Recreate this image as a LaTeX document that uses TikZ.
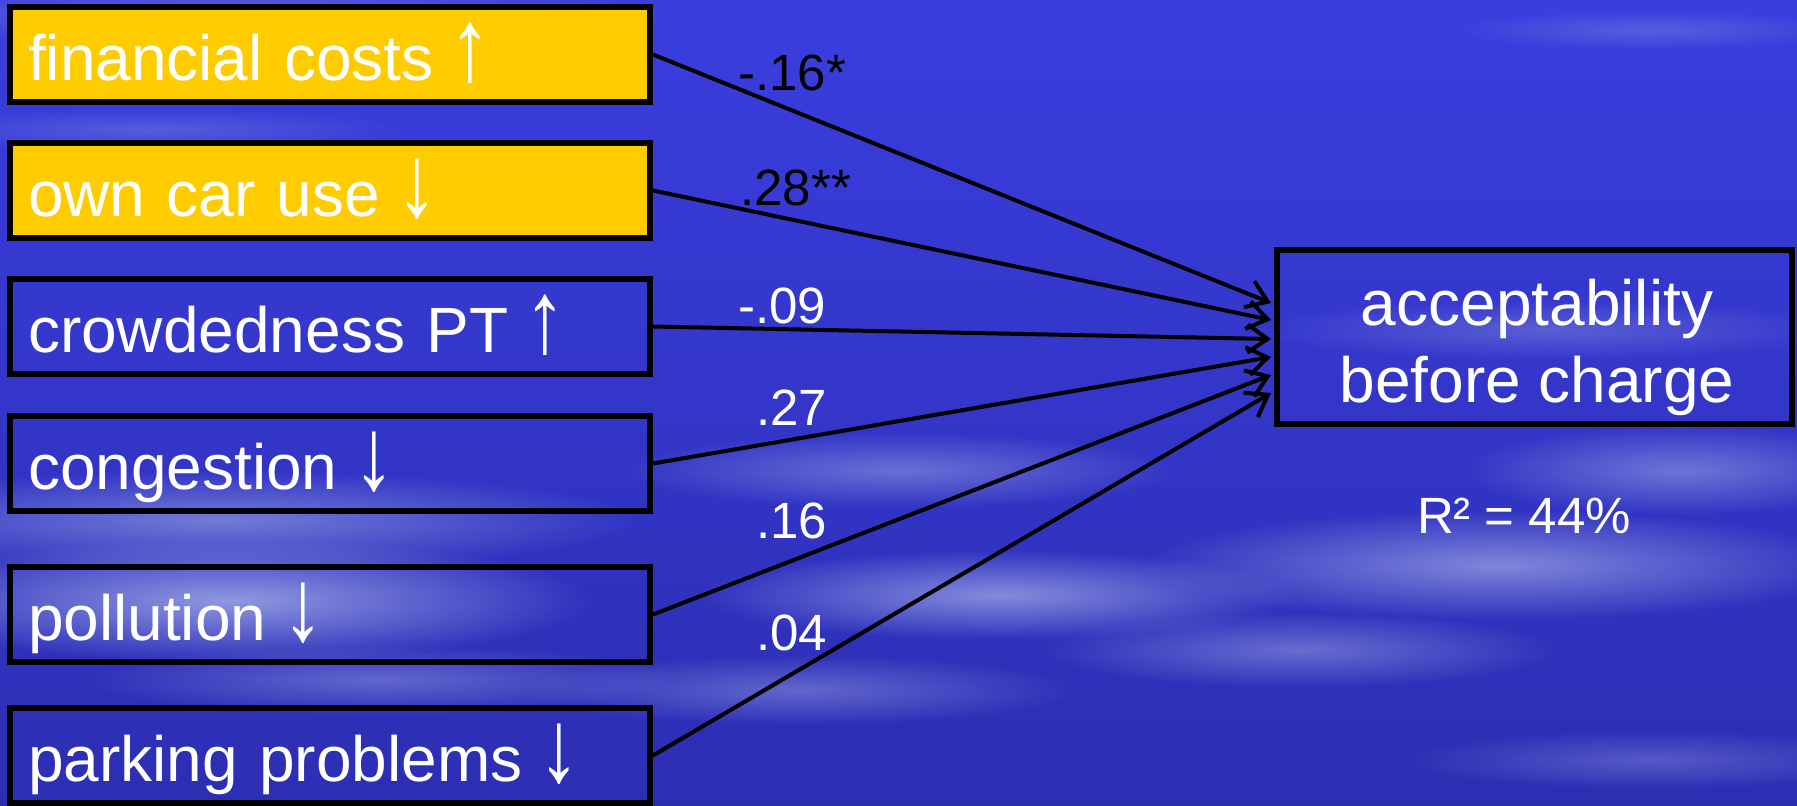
\documentclass[tikz,border=0pt]{standalone}
\usepackage{fontspec}
\setmainfont{Liberation Sans}
\usetikzlibrary{arrows.meta,calc,fadings}
\definecolor{bgtop}{RGB}{58,62,222}
\definecolor{bgmid}{RGB}{36,36,168}
\definecolor{bgbot}{RGB}{44,46,178}
\definecolor{cloud}{RGB}{160,170,230}
\definecolor{boxyellow}{RGB}{255,204,0}
\tikzfading[name=fuzzy, inner color=transparent!0, outer color=transparent!100]
\newcommand{\uparr}{\hspace{8pt}\scalebox{1.3}[1.6]{↑}}
\newcommand{\downarr}{\hspace{8pt}\scalebox{1.3}[1.6]{↓}}
\begin{document}
\begin{tikzpicture}[x=0.5pt,y=-0.5pt,
  lbox/.style={draw=black, line width=3pt, minimum width=320pt, minimum height=47.5pt,
    inner xsep=9pt, inner ysep=0pt, text width=302pt, align=left, text=white,
    text height=26pt, text depth=0pt, font=\fontsize{32pt}{38.5pt}\selectfont},
  yellowbox/.style={lbox, fill=boxyellow},
  rbox/.style={draw=black, line width=3pt, minimum width=257.5pt, minimum height=87pt, inner sep=0pt},
  bigtext/.style={text=white, inner sep=0pt, font=\fontsize{32pt}{38.5pt}\selectfont},
  coef/.style={inner sep=0pt, anchor=base west, font=\fontsize{25.5pt}{30pt}\selectfont},
  path/.style={draw=black, line width=2pt, -{Straight Barb[length=10pt,width=14pt,line width=2pt]}},
  blob/.style={fill=cloud, path fading=fuzzy}
]
\useasboundingbox (0,0) rectangle (1797,805);
% background
\shade[top color=bgtop, middle color=bgmid, bottom color=bgbot] (0,0) rectangle (1797,805);
\begin{scope}
\clip (0,0) rectangle (1797,805);
\fill[blob, fill opacity=0.40] (250,15) ellipse [x radius=420, y radius=28];
\fill[blob, fill opacity=0.30] (150,130) ellipse [x radius=260, y radius=22];
\fill[blob, fill opacity=0.60] (220,520) ellipse [x radius=420, y radius=50];
\fill[blob, fill opacity=0.85] (230,600) ellipse [x radius=360, y radius=62];
\fill[blob, fill opacity=0.45] (380,680) ellipse [x radius=300, y radius=35];
\fill[blob, fill opacity=0.50] (900,470) ellipse [x radius=280, y radius=38];
\fill[blob, fill opacity=0.75] (1000,595) ellipse [x radius=300, y radius=45];
\fill[blob, fill opacity=0.45] (800,690) ellipse [x radius=280, y radius=35];
\fill[blob, fill opacity=0.70] (1500,565) ellipse [x radius=360, y radius=55];
\fill[blob, fill opacity=0.55] (1680,470) ellipse [x radius=220, y radius=45];
\fill[blob, fill opacity=0.50] (1300,650) ellipse [x radius=260, y radius=38];
\fill[blob, fill opacity=0.35] (1550,330) ellipse [x radius=300, y radius=30];
\fill[blob, fill opacity=0.35] (1650,760) ellipse [x radius=250, y radius=30];
\fill[blob, fill opacity=0.30] (1650,30) ellipse [x radius=200, y radius=20];
\end{scope}
% predictor boxes
\node[yellowbox] (b1) at (330,54.5) {financial costs\uparr};
\node[yellowbox] (b2) at (330,190.5) {own car use\downarr};
\node[lbox] (b3) at (330,326.5) {crowdedness PT\uparr};
\node[lbox] (b4) at (330,463.5) {congestion\downarr};
\node[lbox] (b5) at (330,614.5) {pollution\downarr};
\node[lbox] (b6) at (330,755.5) {parking problems\downarr};
% outcome box
\node[rbox] (res) at (1534.5,337) {};
\node[bigtext, anchor=base] (restext) at (1537,325)
  {\begin{tabular}[t]{@{}c@{}}acceptability\\before charge\end{tabular}};
\node[bigtext, anchor=base, font=\fontsize{25.5pt}{30pt}\selectfont] (r2) at (1524,533)
  {R² = 44\%};
% arrow end points
\coordinate (e1) at ($(res.west)+(-3,-34)$);
\coordinate (e2) at ($(res.west)+(-3,-17)$);
\coordinate (e3) at ($(res.west)+(-3,2)$);
\coordinate (e4) at ($(res.west)+(-3,20)$);
\coordinate (e5) at ($(res.west)+(-3,38)$);
\coordinate (e6) at ($(res.west)+(-3,56)$);
\draw[path] (b1.east) -- (e1);
\draw[path] (b2.east) -- (e2);
\draw[path] (b3.east) -- (e3);
\draw[path] (b4.east) -- (e4);
\draw[path] (b5.east) -- (e5);
\draw[path] (b6.east) -- (e6);
% coefficients
\node[coef, text=black] (c1) at (738,90) {-.16*};
\node[coef, text=black] (c2) at (740,205) {.28**};
\node[coef, text=white] (c3) at (738,323) {-.09};
\node[coef, text=white] (c4) at (756,425) {.27};
\node[coef, text=white] (c5) at (756,538) {.16};
\node[coef, text=white] (c6) at (756,650) {.04};
\end{tikzpicture}
\end{document}
